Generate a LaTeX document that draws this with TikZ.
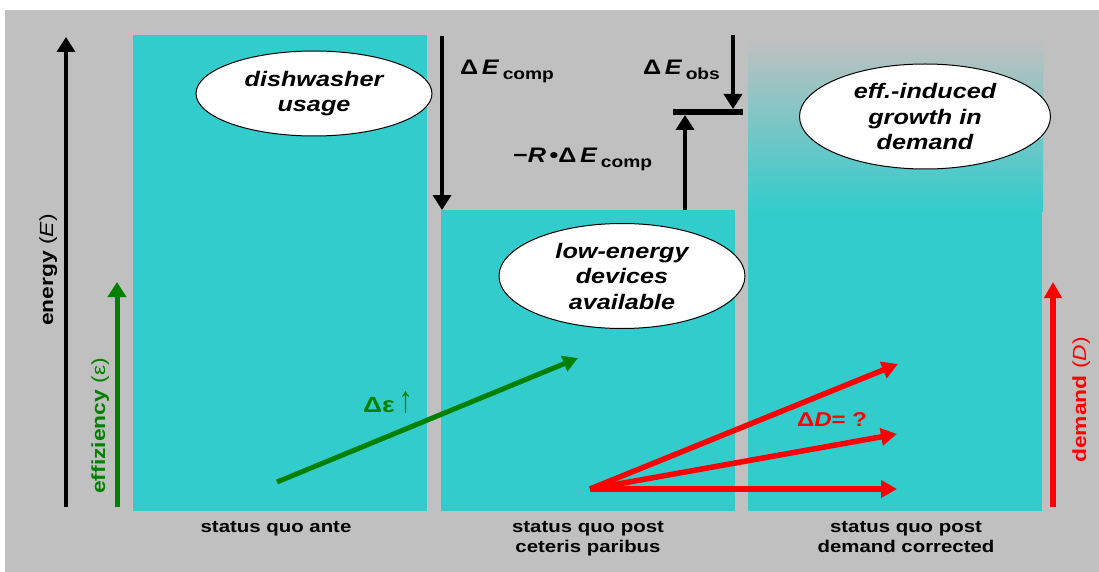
\documentclass[tikz,border=0pt]{standalone}
\usepackage{fontspec}
\setmainfont{Liberation Sans}[FakeStretch=1.2]
\usetikzlibrary{arrows.meta,shapes.geometric}
\definecolor{bg}{RGB}{192,192,192}
\definecolor{tq}{RGB}{51,204,204}
\definecolor{dgreen}{RGB}{0,128,0}
\definecolor{rred}{RGB}{255,0,0}
\begin{document}
\begin{tikzpicture}[x=1pt,y=-1pt,
  panel/.style={fill=tq, draw=none},
  bubble/.style={ellipse, draw=black, line width=1pt, fill=white, inner sep=0pt, align=center,
    font=\fontsize{21}{25.5}\selectfont\bfseries\itshape},
  blk/.style={line width=4.5pt, black, -{Triangle[width=18pt,length=15pt]}},
  grn/.style={line width=5pt, dgreen, -{Triangle[width=18pt,length=15pt]}},
  rd/.style={line width=5.5pt, rred, -{Triangle[width=17pt,length=16pt]}},
  caption/.style={inner sep=0pt, align=center, font=\fontsize{17}{20}\selectfont\bfseries},
  lbl/.style={inner sep=0pt, font=\fontsize{21}{25}\selectfont\bfseries},
  sidelbl/.style={inner sep=0pt, font=\fontsize{19}{22}\selectfont},
]
\useasboundingbox (0,0) rectangle (1099,572);
\fill[white] (0,0) rectangle (1099,572);
\fill[bg] (5,10) rectangle (1099,572);
% panels
\fill[panel] (133,35) rectangle (427,511);
\fill[panel] (441,210) rectangle (735,511);
\shade[top color=bg, bottom color=tq] (748,40) rectangle (1043,211);
\fill[panel] (748,210) rectangle (1042,511);
% axes
\coordinate (Ebot) at (66,507); \coordinate (Etop) at (66,37);
\draw[blk] (Ebot) -- (Etop);
\coordinate (effbot) at (117,507); \coordinate (efftop) at (117,282);
\draw[grn] (effbot) -- (efftop);
\coordinate (dbot) at (1053,507); \coordinate (dtop) at (1053,282);
\draw[rd] (dbot) -- (dtop);
\node[sidelbl, rotate=90, anchor=base] (energy) at (53,270) {\textbf{energy} (\textit{E})};
\node[sidelbl, rotate=90, anchor=base, text=dgreen] (effiz) at (105,426) {\textbf{effiziency} (ε)};
\node[sidelbl, rotate=90, anchor=base, text=rred] (demand) at (1086,400) {\textbf{demand} (\textit{D})};
% energy change arrows
\coordinate (c1) at (442,36); \coordinate (c2) at (442,210);
\draw[blk] (c1) -- (c2);
\coordinate (barL) at (673,112); \coordinate (barR) at (743,112);
\draw[line width=5.5pt] (barL) -- (barR);
\coordinate (o1) at (733,35); \coordinate (o2) at (733,109);
\draw[blk] (o1) -- (o2);
\coordinate (r1) at (685,210); \coordinate (r2) at (685,115);
\draw[blk] (r1) -- (r2);
\node[lbl, anchor=base west] (dEcomp) at (460,75) {Δ\,\textit{E}\,\raisebox{-5pt}{\fontsize{16}{16}\selectfont comp}};
\node[lbl, anchor=base west] (dEobs) at (643,75) {Δ\,\textit{E}\,\raisebox{-5pt}{\fontsize{16}{16}\selectfont obs}};
\node[lbl, anchor=base west] (RdE) at (513,163) {−\textit{R}\,•Δ\,\textit{E}\,\raisebox{-5pt}{\fontsize{16}{16}\selectfont comp}};
% ellipses
\node[bubble, minimum width=236pt, minimum height=85pt] (dish) at (314,93.5) {dishwasher\\usage};
\node[bubble, minimum width=246pt, minimum height=105pt] (low) at (622,276) {low-energy\\devices\\available};
\node[bubble, minimum width=251pt, minimum height=105pt] (eff) at (925,116.5) {eff.-induced\\growth in\\demand};
% efficiency increase
\coordinate (g1) at (277,482); \coordinate (g2) at (578,358);
\draw[line width=5pt, dgreen, -{Triangle[width=16pt,length=15pt]}] (g1) -- (g2);
\node[inner sep=0pt, anchor=base, text=dgreen, font=\fontsize{22}{24}\selectfont] (deps) at (388,412) {\textbf{Δε}\,\scalebox{1.1}[1.7]{↑}};
% demand arrows
\coordinate (d0) at (590,489);
\coordinate (d1) at (898,364); \coordinate (d2) at (897,434); \coordinate (d3) at (897,489);
\draw[rd] (d0) -- (d1);
\draw[rd] (d0) -- (d2);
\draw[rd] (d0) -- (d3);
\node[inner sep=0pt, anchor=base, text=rred, font=\fontsize{20}{22}\selectfont\bfseries] (dD) at (832,426) {Δ\textit{D}= ?};
% captions
\node[caption, anchor=base] (cap1) at (276,532) {status quo ante};
\node[caption, anchor=base] (cap2) at (588,552) {status quo post\\ceteris paribus};
\node[caption, anchor=base] (cap3) at (906,552) {status quo post\\demand corrected};
\end{tikzpicture}
\end{document}
